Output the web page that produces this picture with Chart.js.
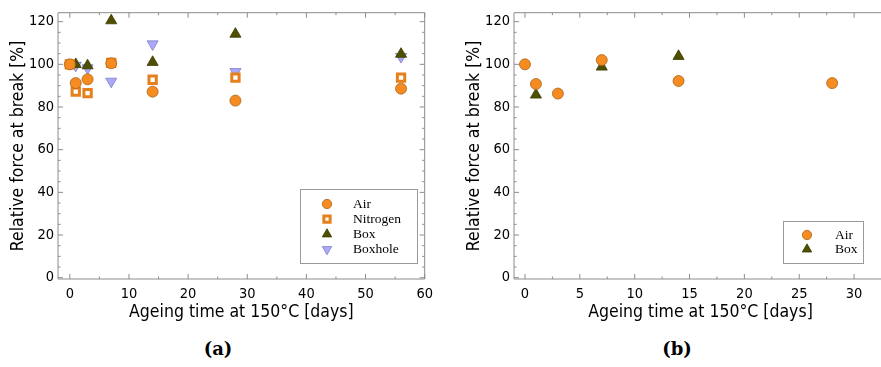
<!DOCTYPE html>
<html>
<head>
<meta charset="utf-8">
<script src="https://cdn.jsdelivr.net/npm/chart.js@4.4.1/dist/chart.umd.min.js"></script>
<style>
    body { margin: 0; background: #fff; width: 881px; height: 367px; position: relative; overflow: hidden; }
    .panel { position: absolute; top: 0; height: 330px; overflow: hidden; }
    .caption { position: absolute; top: 338px; font-family: 'DejaVu Serif', serif; font-weight: bold; font-size: 18px; transform: translateX(-50%); }
</style>
</head>
<body>
<div class="panel" style="left:0;width:440px"><canvas id="chartA" width="440" height="330"></canvas></div>
<div class="panel" style="left:440px;width:441px"><canvas id="chartB" width="455" height="330"></canvas></div>
<div class="caption" style="left:218px">(a)</div>
<div class="caption" style="left:677px">(b)</div>

<script>
// Panel (a): all four atmospheres, up to 56 days
const daysA = [0, 1, 3, 7, 14, 28, 56];
const airA = [100, 91.2, 93.0, 100.5, 87.2, 83.0, 88.6];
const nitrogenA = [100, 87.2, 86.5, 100.7, 92.8, 93.8, 93.8];
const boxDaysA = [1, 3, 7, 14, 28, 56];
const boxA = [100, 99.4, 120.5, 101, 114.2, 104.8];
const boxholeA = [99.5, 98.3, 92.0, 109.5, 96.5, 103.6];

// Panel (b): air and box, up to 28 days
const airDaysB = [0, 1, 3, 7, 14, 28];
const airB = [100, 90.8, 86.3, 102.0, 92.2, 91.2];
const boxDaysB = [1, 7, 14];
const boxB = [85.7, 98.8, 103.8];

// Axis ticks
const yTicks = [0, 20, 40, 60, 80, 100, 120];
const yMinor = [5, 10, 15, 25, 30, 35, 45, 50, 55, 65, 70, 75, 85, 90, 95, 105, 110, 115];
const xTicksA = [0, 10, 20, 30, 40, 50, 60];
const xMinorA = [5, 15, 25, 35, 45, 55];
const xTicksB = [0, 5, 10, 15, 20, 25, 30];
const xMinorB = [2.5, 7.5, 12.5, 17.5, 22.5, 27.5, 32.5];

const xTitle = 'Ageing time at 150\u00B0C [days]';
const yTitle = 'Relative force at break [%]';

const styles = {
    air: { pointStyle: 'circle', radius: 5.5, backgroundColor: '#f68b1f', borderColor: '#a8641e', borderWidth: 0.8, rotation: 0 },
    nitrogen: { pointStyle: 'rect', radius: 5.2, backgroundColor: '#ffffff', borderColor: '#e5801c', borderWidth: 3, rotation: 0 },
    box: { pointStyle: 'triangle', radius: 6.4, backgroundColor: '#4f4f00', borderColor: '#3a3a00', borderWidth: 0.8, rotation: 0 },
    boxhole: { pointStyle: 'triangle', radius: 6.4, backgroundColor: '#a9a9f7', borderColor: '#7d7dc8', borderWidth: 0.8, rotation: 180 }
};

function toPoints(xs, ys) {
    return xs.map((x, i) => ({ x: x, y: ys[i] }));
}

function makeDataset(label, xs, ys, s) {
    return {
        label: label,
        data: toPoints(xs, ys),
        pointStyle: s.pointStyle,
        pointRadius: s.radius,
        pointHoverRadius: s.radius,
        pointRotation: s.rotation,
        backgroundColor: s.backgroundColor,
        borderColor: s.borderColor,
        borderWidth: s.borderWidth,
        showLine: false
    };
}

const tickFont = { family: "'DejaVu Sans Condensed', 'DejaVu Sans', sans-serif", size: 14.5 };
const titleFont = { family: "'DejaVu Sans Condensed', 'DejaVu Sans', sans-serif", size: 17.5 };

// frame with inward ticks on all four sides, plus a boxed legend inside the plot
const framePlugin = {
    id: 'frame',
    afterDraw(chart, args, opts) {
        const { ctx, chartArea: a, scales: { x, y } } = chart;
        ctx.save();
        ctx.strokeStyle = '#8c8c8c';
        ctx.lineWidth = 1;
        ctx.beginPath();
        ctx.rect(a.left, a.top, a.right - a.left, a.bottom - a.top);
        const tick = (list, len) => {
            list.forEach(v => {
                const px = x.getPixelForValue(v);
                ctx.moveTo(px, a.bottom); ctx.lineTo(px, a.bottom - len);
                ctx.moveTo(px, a.top); ctx.lineTo(px, a.top + len);
            });
        };
        tick(opts.xMajor, 5);
        tick(opts.xMinor, 2.5);
        const ytick = (list, len) => {
            list.forEach(v => {
                const py = y.getPixelForValue(v);
                ctx.moveTo(a.left, py); ctx.lineTo(a.left + len, py);
                ctx.moveTo(a.right, py); ctx.lineTo(a.right - len, py);
            });
        };
        ytick(yTicks, 5);
        ytick(yMinor, 2.5);
        ctx.stroke();

        // legend
        const lg = opts.legend;
        ctx.fillStyle = '#fff';
        ctx.fillRect(lg.left, lg.top, lg.width, lg.height);
        ctx.strokeStyle = '#9a9a9a';
        ctx.strokeRect(lg.left + 0.5, lg.top + 0.5, lg.width, lg.height);
        ctx.font = "13.5px 'Liberation Serif', 'Times New Roman', serif";
        ctx.textBaseline = 'middle';
        chart.data.datasets.forEach((ds, i) => {
            const ry = lg.top + lg.firstRow + i * lg.rowGap;
            ctx.fillStyle = ds.backgroundColor;
            ctx.strokeStyle = ds.borderColor;
            ctx.lineWidth = ds.borderWidth;
            Chart.helpers.drawPoint(ctx, {
                pointStyle: ds.pointStyle,
                rotation: ds.pointRotation,
                radius: ds.pointRadius * 0.85,
                borderWidth: ds.borderWidth
            }, lg.left + lg.markerX, ry);
            ctx.fillStyle = '#000';
            ctx.fillText(ds.label, lg.left + lg.textX, ry + 0.5);
        });
        ctx.restore();
    }
};

function buildChart(id, datasets, xMin, xMax, xMajor, xMinor, yAxisWidth, yTitlePad, padRight, legend) {
    return new Chart(document.getElementById(id), {
        type: 'scatter',
        data: { datasets: datasets },
        options: {
            responsive: false,
            animation: false,
            layout: { padding: { top: 5, right: padRight, bottom: 0, left: 0 } },
            scales: {
                x: {
                    type: 'linear',
                    min: xMin,
                    max: xMax,
                    afterBuildTicks: s => { s.ticks = xMajor.map(v => ({ value: v })); },
                    afterFit: s => { s.height = 51; },
                    grid: { display: false, drawTicks: false },
                    border: { display: false },
                    ticks: { color: '#000', font: tickFont, padding: 7, maxRotation: 0, autoSkip: false },
                    title: { display: true, text: xTitle, color: '#000', font: titleFont, padding: { top: 7, bottom: 7 } }
                },
                y: {
                    type: 'linear',
                    min: -0.6,
                    max: 124.2,
                    afterBuildTicks: s => { s.ticks = yTicks.map(v => ({ value: v })); },
                    afterFit: s => { s.width = yAxisWidth; },
                    grid: { display: false, drawTicks: false },
                    border: { display: false },
                    ticks: { color: '#000', font: tickFont, padding: 4 },
                    title: { display: true, text: yTitle, color: '#000', font: titleFont, padding: { top: yTitlePad, bottom: yTitlePad } }
                }
            },
            plugins: {
                legend: { display: false },
                tooltip: { enabled: false },
                frame: { xMajor: xMajor, xMinor: xMinor, legend: legend }
            }
        },
        plugins: [framePlugin]
    });
}

buildChart('chartA', [
    makeDataset('Air', daysA, airA, styles.air),
    makeDataset('Nitrogen', daysA, nitrogenA, styles.nitrogen),
    makeDataset('Box', boxDaysA, boxA, styles.box),
    makeDataset('Boxhole', boxDaysA, boxholeA, styles.boxhole)
], -2, 60, xTicksA, xMinorA, 58, 8, 8,
    { left: 300, top: 189, width: 117, height: 74, markerX: 27, textX: 53, firstRow: 15, rowGap: 15.1 });

buildChart('chartB', [
    makeDataset('Air', airDaysB, airB, styles.air),
    makeDataset('Box', boxDaysB, boxB, styles.box)
], -1, 33, xTicksB, xMinorB, 74, 24, 8,
    { left: 343, top: 221, width: 80, height: 42, markerX: 24, textX: 52, firstRow: 14, rowGap: 14.3 });
</script>
</body>
</html>
